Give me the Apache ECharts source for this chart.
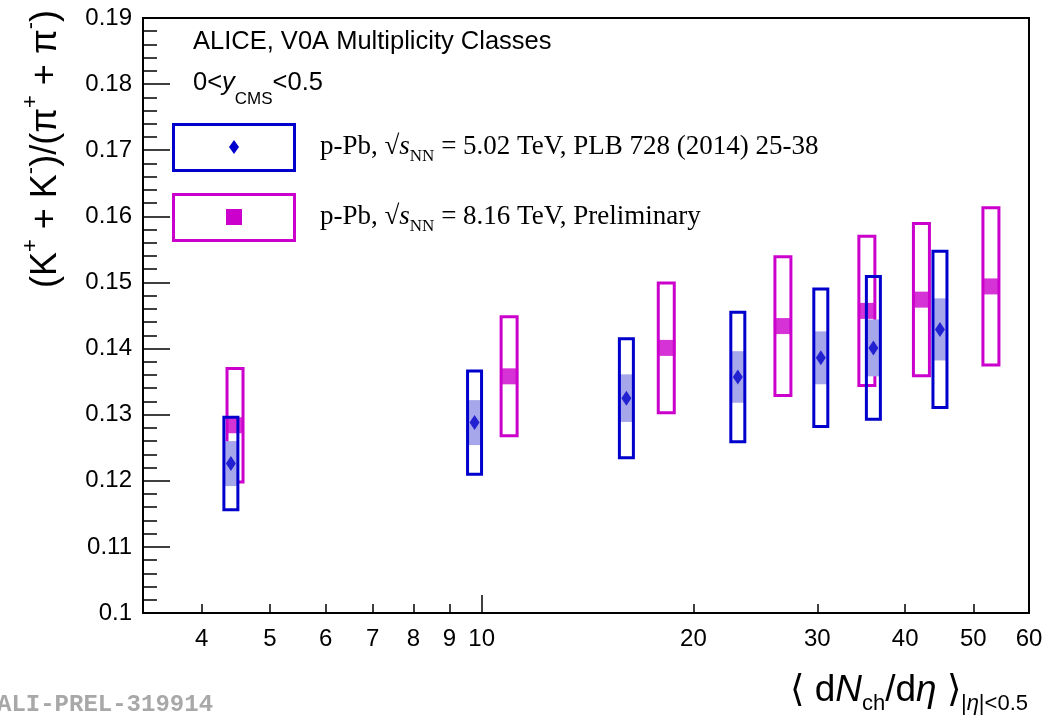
<!DOCTYPE html>
<html>
<head>
<meta charset="utf-8">
<script src="https://cdn.jsdelivr.net/npm/echarts@6/dist/echarts.min.js"></script>
<style>
html,body{margin:0;padding:0;background:#fff;}
#c{width:1045px;height:719px;}
</style>
</head>
<body>
<div id="c"></div>
<script>
// ---- data ----
// p-Pb 5.02 TeV (PLB 728 (2014) 25-38)
const x502   = [4.40, 9.77, 16.06, 23.13, 30.35, 36.05, 44.83];
const y502   = [0.1226, 0.1288, 0.1325, 0.1357, 0.1386, 0.1401, 0.1429];
const sys502 = [0.0070, 0.0078, 0.0090, 0.0098, 0.0104, 0.0108, 0.0118];
const unc502 = [0.0034, 0.0034, 0.0036, 0.0039, 0.0040, 0.0043, 0.0047];
// p-Pb 8.16 TeV (Preliminary)
const x816   = [4.46, 10.94, 18.30, 26.81, 35.29, 42.19, 52.97];
const y816   = [0.1284, 0.1358, 0.1401, 0.1434, 0.1457, 0.1474, 0.1494];
const sys816 = [0.0086, 0.0090, 0.0098, 0.0105, 0.0113, 0.0115, 0.0119];
// axis ticks
const xTickLabels = [4, 5, 6, 7, 8, 9, 10, 20, 30, 40, 50, 60];
const xMajorTicks = [10];
const xRange = [3.3, 60];
const yRange = [0.1, 0.19];

const BLUE = '#0000cc', MAG = '#cc00cc', LIGHT = '#a6a6eb';
const lg = Math.log10;

const d502 = x502.map((x, i) => [lg(x), y502[i], sys502[i], unc502[i]]);
const d816 = x816.map((x, i) => [lg(x), y816[i], sys816[i], 0]);

function boxRenderer(color, w, withFill) {
  return function (params, api) {
    const x = api.value(0), y = api.value(1), e = api.value(2), u = api.value(3);
    const top = api.coord([x, y + e]);
    const bot = api.coord([x, y - e]);
    const children = [];
    if (withFill) {
      const ft = api.coord([x, y + u]);
      const fb = api.coord([x, y - u]);
      children.push({
        type: 'rect',
        shape: { x: ft[0] - w / 2, y: ft[1], width: w, height: fb[1] - ft[1] },
        style: { fill: LIGHT }
      });
    }
    children.push({
      type: 'rect',
      shape: { x: top[0] - w / 2, y: top[1], width: w, height: bot[1] - top[1] },
      style: { fill: 'none', stroke: color, lineWidth: 3 }
    });
    return { type: 'group', children };
  };
}

const FONT = 'Liberation Sans';
const SERIF = 'Liberation Serif';

const chart = echarts.init(document.getElementById('c'), null, { renderer: 'canvas' });
chart.setOption({
  animation: false,
  backgroundColor: '#fff',
  grid: {
    left: 143, right: 16, top: 18, bottom: 106,
    show: true, borderColor: '#000', borderWidth: 2,
    containLabel: false, outerBoundsMode: 'none'
  },
  xAxis: [{
    type: 'value',
    min: lg(xRange[0]), max: lg(xRange[1]),
    axisLine: { show: true, lineStyle: { color: '#000', width: 2 } },
    splitLine: { show: false },
    axisTick: { show: true, inside: true, length: 9, lineStyle: { color: '#000', width: 1.5 },
      customValues: xTickLabels.map(lg) },
    axisLabel: { show: true, margin: 14, color: '#000', fontFamily: FONT, fontSize: 24,
      customValues: xTickLabels.map(lg),
      formatter: v => String(Math.round(Math.pow(10, v))) }
  }, {
    type: 'value', position: 'bottom',
    min: lg(xRange[0]), max: lg(xRange[1]),
    axisLine: { show: false },
    splitLine: { show: false },
    axisTick: { show: true, inside: true, length: 18, lineStyle: { color: '#000', width: 1.5 },
      customValues: xMajorTicks.map(lg) },
    axisLabel: { show: false }
  }],
  yAxis: {
    type: 'value', min: yRange[0], max: yRange[1], interval: 0.01,
    axisLine: { show: true, lineStyle: { color: '#000', width: 2 } },
    splitLine: { show: false },
    axisTick: { show: true, inside: true, length: 27, lineStyle: { color: '#000', width: 1.5 } },
    minorTick: { show: true, splitNumber: 5, length: 14, lineStyle: { color: '#000', width: 1.5 } },
    minorSplitLine: { show: false },
    axisLabel: { margin: 11, color: '#000', fontFamily: FONT, fontSize: 24,
      formatter: v => String(parseFloat(v.toFixed(3))) }
  },
  series: [
    { type: 'custom', name: '8.16 sys', data: d816, renderItem: boxRenderer(MAG, 16, false), z: 2, silent: true },
    { type: 'scatter', name: '8.16', data: d816.map(d => [d[0], d[1]]), symbol: 'rect', symbolSize: [18, 16],
      itemStyle: { color: MAG }, z: 3, silent: true },
    { type: 'custom', name: '5.02 sys', data: d502, renderItem: boxRenderer(BLUE, 14, true), z: 4, silent: true },
    { type: 'scatter', name: '5.02', data: d502.map(d => [d[0], d[1]]), symbol: 'diamond', symbolSize: [10, 15],
      itemStyle: { color: BLUE }, z: 6, silent: true }
  ],
  graphic: [
    // y-axis title
    { type: 'text', x: 42, y: 149, rotation: Math.PI / 2, z: 10,
      style: {
        text: '{m|(K}{s|+}{m| + K}{s|-}{m|)/(π}{s|+}{m| + π}{s|-}{m|)}',
        align: 'center', verticalAlign: 'middle',
        rich: {
          m: { fontFamily: FONT, fontSize: 36, fill: '#000', lineHeight: 44, verticalAlign: 'bottom' },
          s: { fontFamily: FONT, fontSize: 22, fill: '#000', lineHeight: 44, verticalAlign: 'top' }
        }
      } },
    // x-axis title
    { type: 'text', x: 1028, y: 691, z: 10,
      style: {
        text: '{m|⟨ d}{i|N}{b|ch}{m|/d}{i|η}{m| ⟩}{b||}{c|η}{b||<0.5}',
        align: 'right', verticalAlign: 'middle',
        rich: {
          m: { fontFamily: FONT, fontSize: 37, fill: '#000', lineHeight: 48, verticalAlign: 'middle' },
          i: { fontFamily: FONT, fontSize: 37, fontStyle: 'italic', fill: '#000', lineHeight: 48, verticalAlign: 'middle' },
          b: { fontFamily: FONT, fontSize: 22, fill: '#000', lineHeight: 48, verticalAlign: 'bottom' },
          c: { fontFamily: FONT, fontSize: 22, fontStyle: 'italic', fill: '#000', lineHeight: 48, verticalAlign: 'bottom' }
        }
      } },
    // header texts
    { type: 'text', x: 193, y: 42, z: 10,
      style: { text: 'ALICE, V0A Multiplicity Classes', fontFamily: FONT, fontSize: 25.5, fill: '#000',
        align: 'left', verticalAlign: 'middle' } },
    { type: 'text', x: 193, y: 89, z: 10,
      style: {
        text: '{m|0<}{i|y}{b|CMS}{m|<0.5}',
        align: 'left', verticalAlign: 'middle',
        rich: {
          m: { fontFamily: FONT, fontSize: 25.5, fill: '#000', lineHeight: 38, verticalAlign: 'top' },
          i: { fontFamily: FONT, fontSize: 25.5, fontStyle: 'italic', fill: '#000', lineHeight: 38, verticalAlign: 'top' },
          b: { fontFamily: FONT, fontSize: 17, fill: '#000', lineHeight: 38, verticalAlign: 'bottom' }
        }
      } },
    // legend entries
    { type: 'rect', shape: { x: 173.5, y: 124.5, width: 121, height: 46 }, z: 10,
      style: { fill: 'none', stroke: BLUE, lineWidth: 3 } },
    { type: 'polygon', shape: { points: [[234, 140], [239, 147], [234, 154], [229, 147]] }, z: 10,
      style: { fill: BLUE } },
    { type: 'text', x: 320, y: 147, z: 10,
      style: {
        text: '{m|p-Pb, √}{i|s}{b|NN}{m| = 5.02 TeV, PLB 728 (2014) 25-38}',
        align: 'left', verticalAlign: 'middle',
        rich: {
          m: { fontFamily: SERIF, fontSize: 27, fill: '#000', lineHeight: 36, verticalAlign: 'middle' },
          i: { fontFamily: SERIF, fontSize: 27, fontStyle: 'italic', fill: '#000', lineHeight: 36, verticalAlign: 'middle' },
          b: { fontFamily: SERIF, fontSize: 17, fill: '#000', lineHeight: 36, verticalAlign: 'bottom' }
        }
      } },
    { type: 'rect', shape: { x: 173.5, y: 194.5, width: 121, height: 46 }, z: 10,
      style: { fill: 'none', stroke: MAG, lineWidth: 3 } },
    { type: 'rect', shape: { x: 226, y: 209, width: 16, height: 16 }, z: 10,
      style: { fill: MAG } },
    { type: 'text', x: 320, y: 217, z: 10,
      style: {
        text: '{m|p-Pb, √}{i|s}{b|NN}{m| = 8.16 TeV, Preliminary}',
        align: 'left', verticalAlign: 'middle',
        rich: {
          m: { fontFamily: SERIF, fontSize: 27, fill: '#000', lineHeight: 36, verticalAlign: 'middle' },
          i: { fontFamily: SERIF, fontSize: 27, fontStyle: 'italic', fill: '#000', lineHeight: 36, verticalAlign: 'middle' },
          b: { fontFamily: SERIF, fontSize: 17, fill: '#000', lineHeight: 36, verticalAlign: 'bottom' }
        }
      } },
    // watermark
    { type: 'text', x: -3, y: 705, z: 10,
      style: { text: 'ALI-PREL-319914', fontFamily: 'Liberation Mono', fontWeight: 'bold', fontSize: 24,
        fill: '#a8a8a8', align: 'left', verticalAlign: 'middle' } }
  ]
});
</script>
</body>
</html>
